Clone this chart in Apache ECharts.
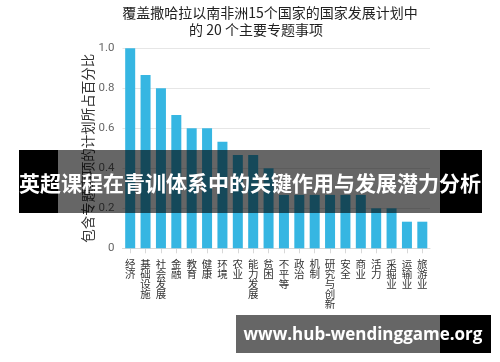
<!DOCTYPE html>
<html>
<head>
<meta charset="utf-8">
<script src="https://cdn.jsdelivr.net/npm/echarts@6/dist/echarts.min.js"></script>
<style>html,body{margin:0;padding:0;background:#fff}#c{width:500px;height:362px}</style>
</head>
<body>
<div id="c"></div>
<script>
const titleLines = ['覆盖撒哈拉以南非洲15个国家的国家发展计划中', '的 20 个主要专题事项'];
const yAxisName = '包含专题事项的计划所占百分比';
const categories = ['经济','基础设施','社会发展','金融','教育','健康','环境','农业','能力发展','贫困','不平等','政治','机制','研究与创新','安全','商业','活力','采掘业','运输业','旅游业'];
const values = [1.0, 0.867, 0.8, 0.667, 0.6, 0.6, 0.533, 0.467, 0.467, 0.4, 0.267, 0.267, 0.267, 0.267, 0.267, 0.267, 0.2, 0.2, 0.133, 0.133];
const yTicks = [0, 0.2, 0.4, 0.6, 0.8, 1.0];
const bannerText = '英超课程在青训体系中的关键作用与发展潜力分析';
const watermarkText = 'www.hub-wendinggame.org';

const FONT = '"Noto Sans CJK SC", "Noto Sans", sans-serif';
const chart = echarts.init(document.getElementById('c'), null, {renderer: 'canvas'});
chart.setOption({
  animation: false,
  backgroundColor: '#fff',
  textStyle: {fontFamily: FONT},
  grid: {left: 122.5, right: 70, top: 48.3, bottom: 113.7, containLabel: false},
  xAxis: {
    type: 'category',
    data: categories,
    axisLine: {show: true, lineStyle: {color: '#d8d8d8'}},
    axisTick: {show: true, alignWithLabel: true, length: 5, lineStyle: {color: '#d8d8d8'}},
    axisLabel: {color: '#333', fontSize: 10.5, lineHeight: 10, margin: 11, fontFamily: FONT, interval: 0,
      verticalAlign: 'top',
      formatter: v => v.split('').join('\n')}
  },
  yAxis: {
    type: 'value',
    min: yTicks[0], max: yTicks[yTicks.length - 1], interval: 0.2,
    name: yAxisName,
    nameLocation: 'middle',
    nameGap: 28,
    nameMoveOverlap: false,
    nameTextStyle: {color: '#333', fontSize: 13.5, fontFamily: FONT},
    axisLine: {show: false},
    axisTick: {show: false},
    splitLine: {lineStyle: {color: '#e6e6e6'}},
    axisLabel: {color: '#666', fontSize: 11.5, margin: 8, fontFamily: 'Roboto, sans-serif',
      formatter: v => v === 0 ? '0' : v.toFixed(1)}
  },
  series: [{
    type: 'bar',
    data: values,
    barWidth: 10,
    itemStyle: {color: '#36b6e2'}
  }],
  graphic: [
    {type: 'text', x: 270, y: 13, style: {text: titleLines[0], fill: '#222', font: '14px ' + FONT, align: 'center', verticalAlign: 'middle'}},
    {type: 'text', x: 256, y: 30, style: {text: titleLines[1], fill: '#222', font: '14px ' + FONT, align: 'center', verticalAlign: 'middle'}},
    {type: 'rect', z: 100, shape: {x: 19, y: 150, width: 39, height: 63}, style: {fill: '#000'}},
    {type: 'rect', z: 100, shape: {x: 58, y: 150, width: 382, height: 63}, style: {fill: 'rgba(0,0,0,0.6)'}},
    {type: 'rect', z: 100, shape: {x: 440, y: 150, width: 42, height: 63}, style: {fill: '#000'}},
    {type: 'text', z: 101, x: 250, y: 183, style: {text: bannerText, fill: '#fff', font: 'bold 21px ' + FONT, align: 'center', verticalAlign: 'middle'}},
    {type: 'rect', z: 100, shape: {x: 236, y: 315, width: 204, height: 38}, style: {fill: 'rgba(0,0,0,0.6)'}},
    {type: 'rect', z: 100, shape: {x: 440, y: 315, width: 51, height: 38}, style: {fill: '#000'}},
    {type: 'text', z: 101, x: 363, y: 335, style: {text: watermarkText, fill: '#fff', font: 'bold 17px "Open Sans", "Noto Sans", sans-serif', align: 'center', verticalAlign: 'middle'}}
  ]
});
</script>
</body>
</html>
